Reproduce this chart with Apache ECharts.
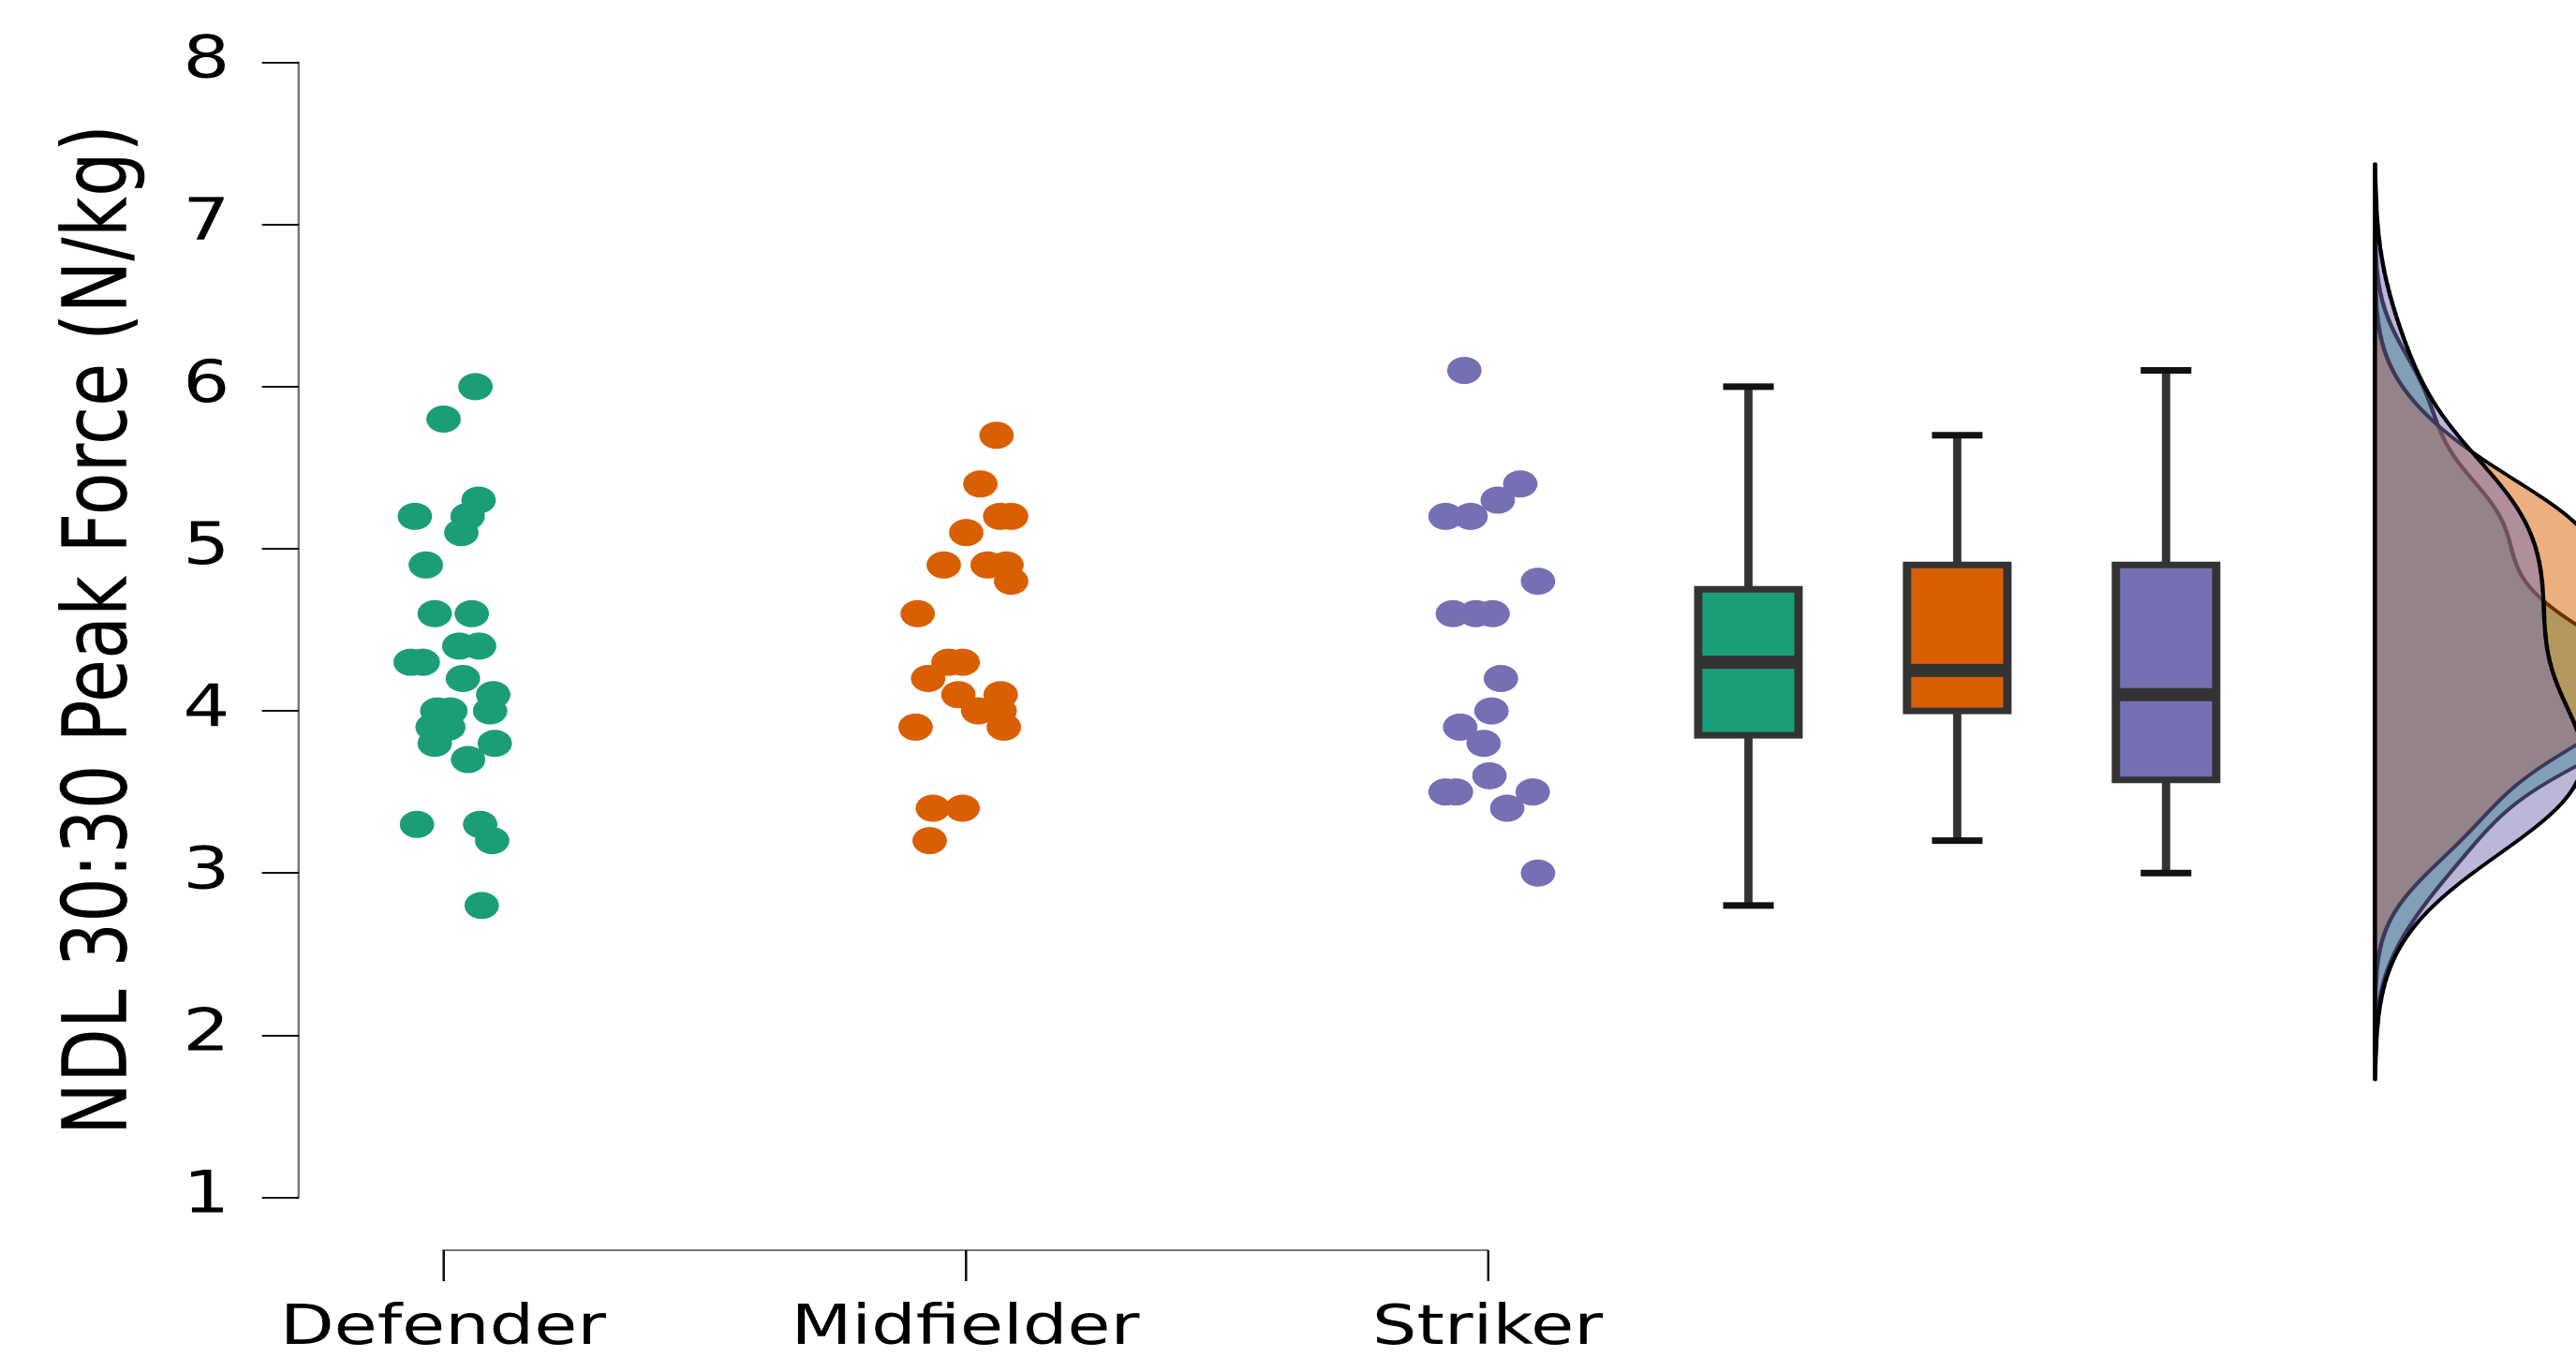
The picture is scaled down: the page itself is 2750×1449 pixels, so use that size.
<!DOCTYPE html>
<html>
<head>
<meta charset="utf-8">
<script src="https://cdn.jsdelivr.net/npm/echarts@6/dist/echarts.min.js"></script>
<style>
  html, body { margin: 0; padding: 0; background: #fff; overflow: hidden; width: 2750px; height: 1449px; }
  #chart { position: absolute; left: 0; top: 0; height: 1449px; transform-origin: 0 0; }
</style>
</head>
<body>
<div id="chart"></div>
<script>
// ---- data -------------------------------------------------------------
const categories = ['Defender', 'Midfielder', 'Striker'];
const groupColors = ['#1b9e77', '#d95f02', '#7570b3'];

// NDL 30:30 peak force per player (N/kg) and horizontal jitter (in category widths)
const defenderValues = [6.0, 5.8, 5.3, 5.2, 5.2, 5.1, 4.9, 4.6, 4.6, 4.4, 4.4, 4.3, 4.3, 4.2,
                        4.1, 4.0, 4.0, 4.0, 3.9, 3.9, 3.8, 3.8, 3.7, 3.3, 3.3, 3.2, 2.8];
const defenderJitter = [0.062, 0.001, 0.068, -0.054, 0.047, 0.035, -0.033, -0.016, 0.055, 0.031, 0.069, -0.062, -0.039, 0.038,
                        0.096, -0.011, 0.014, 0.090, -0.020, 0.010, -0.016, 0.099, 0.048, -0.050, 0.071, 0.094, 0.074];

const midfielderValues = [5.7, 5.4, 5.2, 5.2, 5.1, 4.9, 4.9, 4.9, 4.8, 4.6, 4.3,
                          4.3, 4.2, 4.1, 4.1, 4.0, 4.0, 3.9, 3.9, 3.4, 3.4, 3.2];
const midfielderJitter = [0.060, 0.029, 0.067, 0.088, 0.002, -0.041, 0.043, 0.079, 0.088, -0.091, -0.032,
                          -0.005, -0.071, -0.013, 0.068, 0.025, 0.066, 0.074, -0.095, -0.062, -0.005, -0.068];

const strikerValues = [6.1, 5.4, 5.3, 5.2, 5.2, 4.8, 4.6, 4.6, 4.6, 4.2,
                       4.0, 3.9, 3.8, 3.6, 3.5, 3.5, 3.5, 3.4, 3.0];
const strikerJitter = [-0.044, 0.063, 0.020, -0.080, -0.032, 0.097, -0.066, -0.022, 0.010, 0.026,
                       0.008, -0.052, -0.007, 0.004, -0.080, -0.060, 0.087, 0.038, 0.097];

// box plot summaries: [lower whisker, Q1, median, Q3, upper whisker]
const boxStats = [
  [2.8, 3.85, 4.30, 4.75, 6.0],
  [3.2, 4.00, 4.25, 4.90, 5.7],
  [3.0, 3.575, 4.10, 4.90, 6.1]
];
const boxPositions = [3.5, 3.9, 4.3];   // x positions of the three boxes
const densityBase = 4.7;                // x position of the density baseline
const yTicks = [1, 2, 3, 4, 5, 6, 7, 8];

const groupValues = [defenderValues, midfielderValues, strikerValues];
const groupJitter = [defenderJitter, midfielderJitter, strikerJitter];

// ---- layout -------------------------------------------------------------
const STRETCH = 1.27;                     // horizontal stretch of the whole figure
const PAGE_W = 2750, PAGE_H = 1449;
const W = PAGE_W / STRETCH;
const AXIS_LEFT = 319 / STRETCH;          // y axis line
const CAT1_X = 473 / STRETCH;             // first category position
const UNIT_X = 557.5 / STRETCH;           // pixels per category step
const X_MIN = 1 - (CAT1_X - AXIS_LEFT) / UNIT_X;
const X_MAX = 1 + (W - CAT1_X) / UNIT_X;
const PLOT_TOP = 66.6, PLOT_BOTTOM = 1278.5;
const XAXIS_Y = 1338;

const BOX_WIDTH = 0.192;
const CAP_WIDTH = 0.097;
const DENSITY_WIDTH = 0.98;               // x units per unit of density
const FONT = '"DejaVu Sans", sans-serif';

const chartEl = document.getElementById('chart');
chartEl.style.width = W + 'px';
chartEl.style.transform = 'scaleX(' + STRETCH + ')';

// ---- kernel density (Gaussian kernel, Silverman bandwidth, cut = 3) -------
function quantile(sorted, p) {
  const h = (sorted.length - 1) * p, lo = Math.floor(h);
  const hi = Math.min(lo + 1, sorted.length - 1);
  return sorted[lo] + (h - lo) * (sorted[hi] - sorted[lo]);
}
function kde(values) {
  const n = values.length;
  const m = values.reduce((a, b) => a + b, 0) / n;
  const sd = Math.sqrt(values.reduce((a, b) => a + (b - m) * (b - m), 0) / (n - 1));
  const s = values.slice().sort((a, b) => a - b);
  const iqr = (quantile(s, 0.75) - quantile(s, 0.25)) / 1.34;
  const bw = 0.9 * Math.min(sd, iqr) * Math.pow(n, -0.2);
  const lo = s[0] - 3 * bw, hi = s[n - 1] + 3 * bw;
  const steps = 256, curve = [];
  for (let i = 0; i < steps; i++) {
    const y = lo + (hi - lo) * i / (steps - 1);
    let d = 0;
    for (const v of values) {
      const z = (y - v) / bw;
      d += Math.exp(-0.5 * z * z);
    }
    curve.push([y, d / (n * bw * Math.sqrt(2 * Math.PI))]);
  }
  return { lo, hi, curve };
}
const densities = groupValues.map(kde);

function hexToRgba(hex, a) {
  const v = parseInt(hex.slice(1), 16);
  return 'rgba(' + (v >> 16 & 255) + ',' + (v >> 8 & 255) + ',' + (v & 255) + ',' + a + ')';
}

// ---- series --------------------------------------------------------------
const scatterSeries = groupValues.map((vals, i) => ({
  type: 'scatter',
  xAxisIndex: 0, yAxisIndex: 0,
  symbol: 'circle',
  symbolSize: 29,
  itemStyle: { color: groupColors[i], opacity: 1 },
  silent: true,
  data: vals.map((y, j) => [i + 1 + groupJitter[i][j], y])
}));

const boxSeries = {
  type: 'custom',
  xAxisIndex: 0, yAxisIndex: 0,
  silent: true,
  encode: { x: 0, y: [1, 2, 3, 4, 5] },
  data: boxStats.map((s, i) => [boxPositions[i]].concat(s)),
  renderItem: function (params, api) {
    const x = api.value(0);
    const mn = api.value(1), q1 = api.value(2), md = api.value(3), q3 = api.value(4), mx = api.value(5);
    const pMin = api.coord([x, mn]), pQ1 = api.coord([x, q1]), pMd = api.coord([x, md]);
    const pQ3 = api.coord([x, q3]), pMax = api.coord([x, mx]);
    const half = api.size([BOX_WIDTH, 0])[0] / 2;
    const capHalf = api.size([CAP_WIDTH, 0])[0] / 2;
    const cx = pMd[0];
    const dark = '#333333';
    return {
      type: 'group',
      children: [
        { type: 'line', shape: { x1: cx, y1: pMax[1], x2: cx, y2: pQ3[1] }, style: { stroke: dark, lineWidth: 7 } },
        { type: 'line', shape: { x1: cx, y1: pQ1[1], x2: cx, y2: pMin[1] }, style: { stroke: dark, lineWidth: 7 } },
        { type: 'rect', shape: { x: cx - half, y: pQ3[1], width: half * 2, height: pQ1[1] - pQ3[1] },
          style: { fill: groupColors[params.dataIndex], stroke: dark, lineWidth: 7 } },
        { type: 'line', shape: { x1: cx - half, y1: pMd[1], x2: cx + half, y2: pMd[1] }, style: { stroke: dark, lineWidth: 14 } },
        { type: 'line', shape: { x1: cx - capHalf, y1: pMax[1], x2: cx + capHalf, y2: pMax[1] }, style: { stroke: '#111', lineWidth: 7 } },
        { type: 'line', shape: { x1: cx - capHalf, y1: pMin[1], x2: cx + capHalf, y2: pMin[1] }, style: { stroke: '#111', lineWidth: 7 } }
      ]
    };
  }
};

const densitySeries = {
  type: 'custom',
  xAxisIndex: 0, yAxisIndex: 0,
  silent: true,
  clip: true,
  encode: { x: 0, y: 1 },
  data: densities.map(d => [densityBase, (d.lo + d.hi) / 2]),
  renderItem: function (params, api) {
    const d = densities[params.dataIndex];
    const pts = [api.coord([densityBase, d.lo])];
    d.curve.forEach(([y, v]) => pts.push(api.coord([densityBase + v * DENSITY_WIDTH, y])));
    pts.push(api.coord([densityBase, d.hi]));
    return {
      type: 'polygon',
      shape: { points: pts },
      style: { fill: hexToRgba(groupColors[params.dataIndex], 0.5), stroke: '#000', lineWidth: 3.5, lineJoin: 'round' }
    };
  }
};

// carries the category axis under the dot strips
const categoryAxisCarrier = {
  type: 'scatter', xAxisIndex: 1, yAxisIndex: 1, silent: true, data: []
};

// ---- chart -----------------------------------------------------------------
const chart = echarts.init(chartEl, null, { renderer: 'canvas', devicePixelRatio: 2 });
chart.setOption({
  animation: false,
  backgroundColor: '#ffffff',
  grid: [
    { left: AXIS_LEFT, right: 0, top: PLOT_TOP, bottom: PAGE_H - PLOT_BOTTOM, containLabel: false },
    { left: CAT1_X, width: UNIT_X * (categories.length - 1), top: XAXIS_Y - 40, height: 40, containLabel: false }
  ],
  xAxis: [
    { gridIndex: 0, type: 'value', min: X_MIN, max: X_MAX, show: false },
    {
      gridIndex: 1, type: 'value', min: 1, max: categories.length, interval: 1,
      position: 'bottom',
      axisLine: { show: true, onZero: false, lineStyle: { color: '#777', width: 2 } },
      axisTick: { show: true, length: 33, lineStyle: { color: '#111', width: 2 } },
      splitLine: { show: false },
      axisLabel: {
        margin: 55, fontSize: 59, fontFamily: FONT, color: '#000',
        formatter: v => categories[Math.round(v) - 1] || ''
      }
    }
  ],
  yAxis: [
    {
      gridIndex: 0, type: 'value', min: yTicks[0], max: yTicks[yTicks.length - 1], interval: 1,
      name: 'NDL 30:30 Peak Force (N/kg)',
      nameLocation: 'middle', nameRotate: 90, nameGap: 127,
      nameTextStyle: { fontSize: 75, fontFamily: FONT, color: '#000' },
      axisLine: { show: true, onZero: false, lineStyle: { color: '#777', width: 2 } },
      axisTick: { show: true, length: 31, lineStyle: { color: '#111', width: 2 } },
      splitLine: { show: false },
      axisLabel: { margin: 58, fontSize: 62, fontFamily: FONT, color: '#000' }
    },
    { gridIndex: 1, type: 'value', min: 0, max: 1, show: false }
  ],
  series: [densitySeries, boxSeries].concat(scatterSeries, [categoryAxisCarrier])
});
</script>
</body>
</html>
